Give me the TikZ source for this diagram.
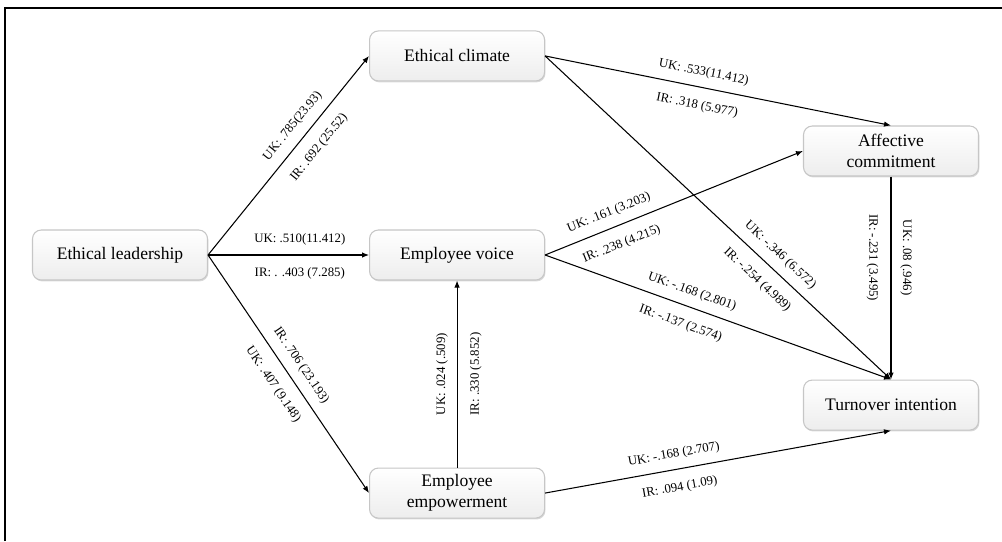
\documentclass[tikz,border=0pt]{standalone}
\usepackage{fontspec}
\setmainfont{Liberation Serif}
\usepackage{tikz}
\usetikzlibrary{positioning,arrows.meta,shadows}

\tikzset{
  box/.style={draw=gray!45, line width=.6pt, rounded corners=5pt,
    top color=white, bottom color=gray!14,
    drop shadow={opacity=.3, shadow xshift=.5pt, shadow yshift=-.8pt},
    minimum width=3.5cm, minimum height=1cm, align=center,
    font=\fontsize{10}{12}\selectfont},
  arr/.style={line width=.6pt, -{Latex[length=1.4mm,width=1.1mm]}},
  lbl/.style={sloped, allow upside down, inner sep=1pt,
    font=\fontsize{7.3}{8.5}\selectfont},
}

\begin{document}
\begin{tikzpicture}
    \useasboundingbox (0,0) rectangle (20.04,-10.82);
    \draw[line width=.8pt] (0.1,-10.82) |- (20.04,-0.16);

    \node[box] (lead) at (2.4,-5.1) {Ethical leadership};
    \node[box, right=3.22cm of lead] (voice) {Employee voice};
    \node[box, above=2.96cm of voice] (clim) {Ethical climate};
    \node[box, below=3.74cm of voice] (empw) {Employee\\empowerment};
    \node[box] (affc) at (17.82,-3.02) {Affective\\commitment};
    \node[box, below=4.06cm of affc] (turn) {Turnover intention};

    \draw[arr] (lead.east) -- (clim.west)
      node[lbl, pos=.6, above=4pt] {UK: .785(23.93)}
      node[lbl, pos=.6, below=6pt] {IR: .692 (25.52)};
    \draw[arr] (lead.east) -- (voice.west)
      node[lbl, pos=.57, above=4pt] {UK: .510(11.412)}
      node[lbl, pos=.57, below=6pt] {IR: . .403 (7.285)};
    \draw[arr] (lead.east) -- (empw.west)
      node[lbl, pos=.5, above=4pt] {IR: .706 (23.193)}
      node[lbl, pos=.5, below=6pt] {UK: .407 (9.148)};
    \draw[arr] (clim.east) -- (affc.north)
      node[lbl, pos=.45, above=4pt] {UK: .533(11.412)}
      node[lbl, pos=.45, below=6pt] {IR: .318 (5.977)};
    \draw[arr] (clim.east) -- (turn.north)
      node[lbl, pos=.65, above=4pt] {UK: -.346 (6.572)}
      node[lbl, pos=.65, below=6pt] {IR: -.254 (4.989)};
    \draw[arr] (voice.east) -- (affc.west)
      node[lbl, pos=.27, above=4pt] {UK: .161 (3.203)}
      node[lbl, pos=.27, below=6pt] {IR: .238 (4.215)};
    \draw[arr] (voice.east) -- (turn.north)
      node[lbl, pos=.41, above=4pt] {UK: -.168 (2.801)}
      node[lbl, pos=.41, below=6pt] {IR: -.137 (2.574)};
    \draw[arr] (affc.south) -- (turn.north)
      node[lbl, pos=.4, above=4pt] {UK: .08 (.946)}
      node[lbl, pos=.4, below=6pt] {IR: -.231 (3.495)};
    \draw[arr] (empw.north) -- (voice.south)
      node[lbl, pos=.5, above=4pt] {UK: .024 (.509)}
      node[lbl, pos=.5, below=6pt] {IR: .330 (5.852)};
    \draw[arr] (empw.east) -- (turn.south)
      node[lbl, pos=.38, above=4pt] {UK: -.168 (2.707)}
      node[lbl, pos=.38, below=6pt] {IR: .094 (1.09)};
\end{tikzpicture}
\end{document}
